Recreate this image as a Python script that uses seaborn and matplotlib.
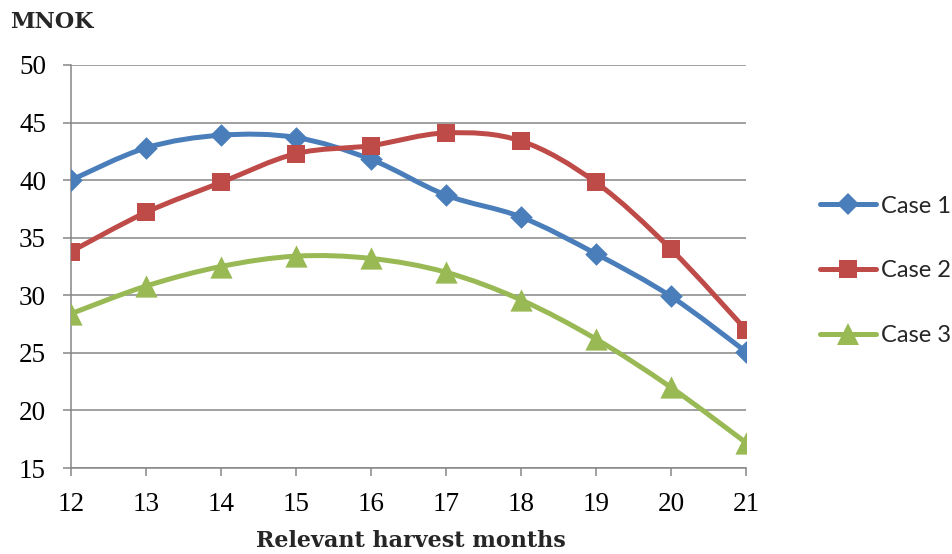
import numpy as np
import pandas as pd
import matplotlib
matplotlib.use("Agg")
import matplotlib.pyplot as plt
from matplotlib.path import Path
from matplotlib.patches import PathPatch
from matplotlib.lines import Line2D
import seaborn as sns

months = [12, 13, 14, 15, 16, 17, 18, 19, 20, 21]
case1 = [40.0, 42.8, 43.9, 43.7, 41.8, 38.7, 36.8, 33.6, 29.9, 25.1]
case2 = [33.8, 37.2, 39.8, 42.3, 43.0, 44.1, 43.4, 39.8, 34.0, 27.0]
case3 = [28.4, 30.8, 32.5, 33.4, 33.2, 32.0, 29.6, 26.2, 22.0, 17.2]
series_names = ["Case 1", "Case 2", "Case 3"]
yticks = [15, 20, 25, 30, 35, 40, 45, 50]

colors = ["#4A7EBB", "#BE4B48", "#98B954"]
markers = ["D", "s", "^"]
msizes = [11.5, 13, 16]

sns.set_theme(style="white")
plt.rcParams["font.family"] = ["DejaVu Serif"]

fig = plt.figure(figsize=(9.52, 5.54), dpi=100)
ax = fig.add_axes([0.0746, 0.1552, 0.709, 0.7275])


def smooth_path(xs, ys):
    """Cubic Bezier path through the points (Catmull-Rom style control points)."""
    p = np.column_stack([xs, ys]).astype(float)
    n = len(p)
    verts = [p[0]]
    codes = [Path.MOVETO]
    for i in range(n - 1):
        p0 = p[i - 1] if i > 0 else p[i]
        p1 = p[i]
        p2 = p[i + 1]
        p3 = p[i + 2] if i + 2 < n else p[i + 1]
        c1 = p1 + (p2 - p0) / 6.0
        c2 = p2 - (p3 - p1) / 6.0
        verts += [c1, c2, p2]
        codes += [Path.CURVE4] * 3
    return Path(verts, codes)


data = pd.DataFrame({"month": months * 3,
                     "value": case1 + case2 + case3,
                     "series": sum([[n] * len(months) for n in series_names], [])})

handles = []
for name, col, mk, ms in zip(series_names, colors, markers, msizes):
    sub = data[data["series"] == name]
    patch = PathPatch(smooth_path(sub["month"].values, sub["value"].values),
                      facecolor="none", edgecolor=col, lw=3.6,
                      capstyle="round", joinstyle="round", zorder=3)
    ax.add_patch(patch)
    sns.scatterplot(data=sub, x="month", y="value", marker=mk, s=ms ** 2,
                    color=col, edgecolor=col, linewidth=0, ax=ax, zorder=4,
                    legend=False)
    handles.append(Line2D([0], [0], color=col, lw=3.6, marker=mk,
                          markersize=ms, markeredgewidth=0,
                          solid_capstyle="round"))

ax.set_xlim(12, 21)
ax.set_ylim(15, 50)
ax.set_xticks(months)
ax.set_yticks(yticks)
ax.grid(axis="y", color="#868686", lw=1.1)
ax.set_axisbelow(True)
for s in ["top", "right"]:
    ax.spines[s].set_visible(False)
for s in ["left", "bottom"]:
    ax.spines[s].set_color("#868686")
    ax.spines[s].set_linewidth(1.1)
ax.tick_params(axis="both", which="major", direction="out", length=6,
               width=1.1, color="#868686", labelcolor="black",
               left=True, bottom=True)
ax.tick_params(axis="x", pad=11)
ax.tick_params(axis="y", pad=12)
for lab in ax.get_xticklabels() + ax.get_yticklabels():
    lab.set_family("Liberation Serif")
    lab.set_fontsize(19.5)
ax.set_xlabel("")
ax.set_ylabel("")

fig.text(0.011, 0.960, "MNOK", fontsize=16, fontweight="bold",
         ha="left", va="center")
fig.text(0.4318, 0.023, "Relevant harvest months", fontsize=16,
         fontweight="bold", ha="center", va="center")

leg = fig.legend(handles, series_names, loc="center left",
                 bbox_to_anchor=(0.861, 0.511), frameon=False,
                 borderpad=0, borderaxespad=0,
                 handlelength=2.4, handletextpad=0.2, labelspacing=1.85,
                 prop={"family": "Lato", "size": 17})

fig.savefig("out.png", dpi=100)
